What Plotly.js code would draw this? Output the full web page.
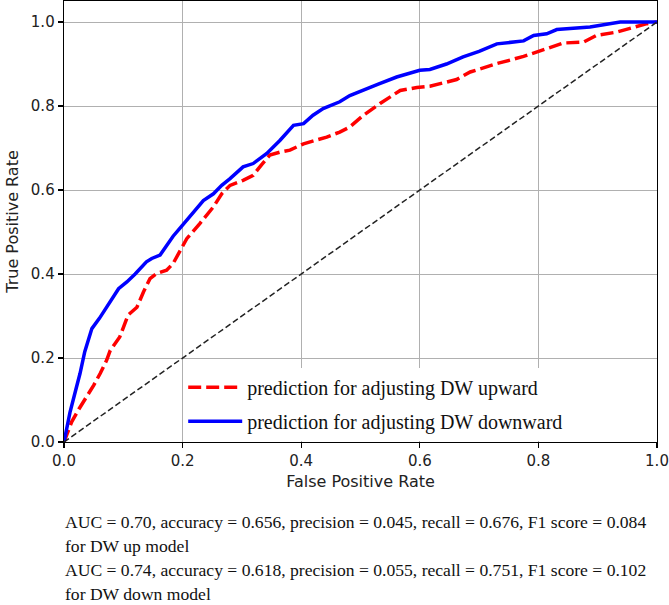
<!DOCTYPE html>
<html>
<head>
<meta charset="utf-8">
<script src="https://cdn.plot.ly/plotly-3.0.1.min.js"></script>
<style>html,body{margin:0;padding:0;background:#fff;}#chart{width:669px;height:605px;}</style>
</head>
<body>
<div id="chart"></div>
<script>
// Upward model ROC (red dashed)
const fprUp = [0, 0.013, 0.025, 0.038, 0.05, 0.061, 0.072, 0.078, 0.094, 0.108, 0.123, 0.134, 0.145, 0.156, 0.173, 0.184, 0.196, 0.207, 0.229, 0.252, 0.266, 0.28, 0.302, 0.319, 0.333, 0.347, 0.364, 0.381, 0.404, 0.443, 0.465, 0.482, 0.505, 0.533, 0.567, 0.595, 0.617, 0.662, 0.685, 0.73, 0.775, 0.808, 0.842, 0.876, 0.898, 0.932, 0.954, 0.983, 1.0];
const tprUp = [0, 0.048, 0.078, 0.107, 0.135, 0.163, 0.195, 0.218, 0.25, 0.302, 0.321, 0.357, 0.389, 0.401, 0.409, 0.425, 0.456, 0.484, 0.52, 0.56, 0.591, 0.611, 0.623, 0.635, 0.66, 0.683, 0.69, 0.695, 0.71, 0.726, 0.738, 0.75, 0.778, 0.806, 0.837, 0.844, 0.847, 0.863, 0.881, 0.901, 0.918, 0.933, 0.95, 0.952, 0.968, 0.976, 0.984, 0.996, 1.0];
// Downward model ROC (blue solid)
const fprDown = [0, 0.01, 0.02, 0.027, 0.035, 0.047, 0.06, 0.072, 0.085, 0.092, 0.106, 0.12, 0.139, 0.148, 0.162, 0.172, 0.184, 0.196, 0.218, 0.235, 0.252, 0.266, 0.28, 0.302, 0.319, 0.342, 0.364, 0.387, 0.404, 0.42, 0.437, 0.449, 0.465, 0.482, 0.505, 0.53, 0.561, 0.6, 0.617, 0.645, 0.673, 0.70, 0.73, 0.775, 0.792, 0.814, 0.831, 0.887, 0.938, 1.0];
const tprDown = [0, 0.07, 0.125, 0.163, 0.215, 0.27, 0.295, 0.321, 0.35, 0.365, 0.381, 0.40, 0.429, 0.437, 0.445, 0.465, 0.49, 0.51, 0.548, 0.575, 0.591, 0.611, 0.627, 0.655, 0.663, 0.687, 0.718, 0.754, 0.758, 0.778, 0.794, 0.80, 0.81, 0.825, 0.837, 0.852, 0.869, 0.885, 0.887, 0.90, 0.917, 0.93, 0.948, 0.955, 0.968, 0.972, 0.982, 0.988, 1.0, 1.0];
// Chance diagonal
const diagX = [0, 1];
const diagY = [0, 1];

const seriesNames = ["prediction for adjusting DW upward", "prediction for adjusting DW downward"];
const tickVals = [0, 0.2, 0.4, 0.6, 0.8, 1.0];
const xTitle = "False Positive Rate";
const yTitle = "True Positive Rate";
const noteLines = [
  "AUC = 0.70, accuracy = 0.656, precision = 0.045, recall = 0.676, F1 score = 0.084",
  "for DW up model",
  "AUC = 0.74, accuracy = 0.618, precision = 0.055, recall = 0.751, F1 score = 0.102",
  "for DW down model"
];

const traces = [
  {x: fprUp, y: tprUp, mode: "lines", name: seriesNames[0], legendgroup: "a",
   line: {color: "#ff0000", width: 3.5, dash: "13px,5px"}},
  {x: fprDown, y: tprDown, mode: "lines", name: seriesNames[1], legendgroup: "b",
   line: {color: "#0000ff", width: 3.5}},
  {x: diagX, y: diagY, mode: "lines", showlegend: false,
   line: {color: "#222222", width: 1.5, dash: "6px,3px"}}
];

const noteY = [-0.181, -0.236, -0.290, -0.344];
const annotations = noteLines.map((t, i) => ({
  text: t, xref: "paper", yref: "paper", x: 0.0, y: noteY[i],
  xanchor: "left", yanchor: "middle", showarrow: false, borderpad: 0,
  font: {family: "Liberation Serif, Times New Roman, serif", size: 17.6, color: "#111"}
}));

const axisCommon = {
  tickvals: tickVals, tickformat: ".1f",
  ticks: "outside", ticklen: 5, tickwidth: 1.2, tickcolor: "#000",
  showline: true, mirror: true, linecolor: "#000", linewidth: 1.3,
  showgrid: true, gridcolor: "#b0b0b0", gridwidth: 1, zeroline: false,
  tickfont: {family: "DejaVu Sans", size: 15, color: "#222"}
};

const layout = {
  width: 669, height: 605,
  margin: {l: 64, r: 12, t: 1, b: 163},
  paper_bgcolor: "#fff", plot_bgcolor: "#fff",
  showlegend: true,
  xaxis: Object.assign({}, axisCommon, {range: [0, 1],
    title: {text: xTitle, standoff: 6, font: {family: "DejaVu Sans", size: 16, color: "#222"}}}),
  yaxis: Object.assign({}, axisCommon, {range: [0, 1.05],
    title: {text: yTitle, standoff: 8, font: {family: "DejaVu Sans", size: 16, color: "#222"}}}),
  legend: {x: 0.201, y: 0.003, xanchor: "left", yanchor: "bottom",
    bgcolor: "#fff", borderwidth: 0, itemwidth: 54, traceorder: "grouped", tracegroupgap: 5,
    font: {family: "Liberation Serif, Times New Roman, serif", size: 20, color: "#111"}},
  annotations: annotations
};

Plotly.newPlot("chart", traces, layout, {staticPlot: true, displayModeBar: false});
</script>
</body>
</html>
